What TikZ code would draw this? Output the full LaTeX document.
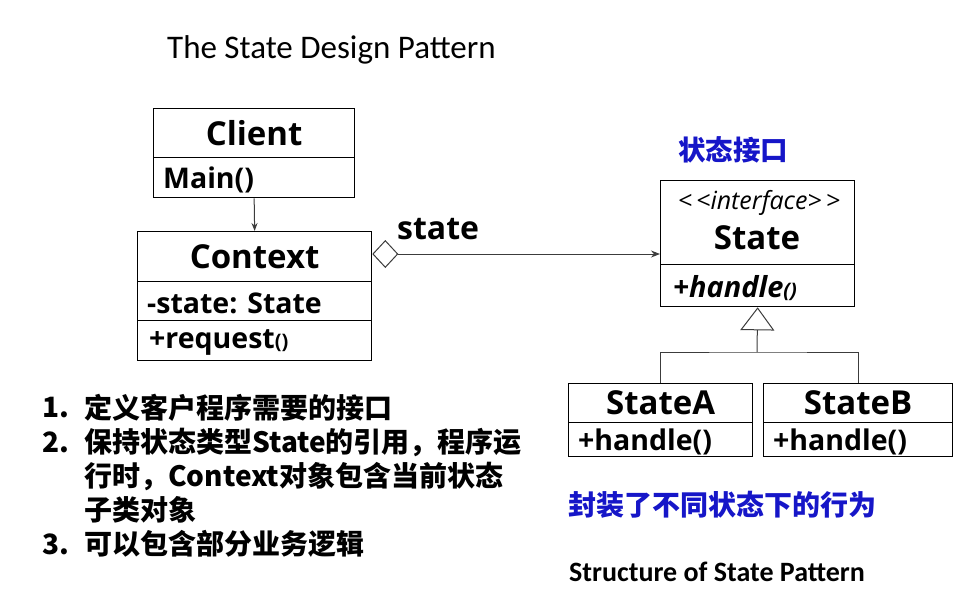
\documentclass[tikz,border=0pt]{standalone}
\usepackage{fontspec}
\setmainfont{Open Sans}
\newfontfamily\calfont{Carlito}
\newfontfamily\cjk{Noto Sans CJK SC}
\usetikzlibrary{arrows.meta}
\definecolor{hiblue}{RGB}{22,22,200}
\definecolor{linegray}{RGB}{60,60,60}
\begin{document}
\begin{tikzpicture}[x=1pt,y=-1pt,
  cell/.style={draw=black, line width=1.3pt, inner sep=0pt, anchor=north west, font=\bfseries\fontsize{33}{38}\selectfont},
  member/.style={anchor=west, inner sep=0pt, yshift=-2pt, font=\bfseries\fontsize{28.5}{32}\selectfont},
  conn/.style={draw=linegray, line width=1pt},
  listtxt/.style={anchor=west, inner sep=0pt, font=\cjk\bfseries\fontsize{28}{34}\selectfont},
  bluetxt/.style={anchor=west, inner sep=0pt, text=hiblue, font=\cjk\bfseries\fontsize{27.5}{32}\selectfont}
]
\useasboundingbox (0,0) rectangle (975,608);

% title
\node[anchor=west, inner sep=0pt, font=\calfont\fontsize{33}{38}\selectfont] (title) at (167,50) {The State Design Pattern};

% Client
\node[cell, minimum width=201pt, minimum height=49pt] (clienth) at (153,108) {Client};
\node[cell, minimum width=201pt, minimum height=40pt] (clientm) at (153,157) {};
\node[member] (clientmt) at ([xshift=10pt]clientm.west) {Main()};

% Context
\node[cell, minimum width=234pt, minimum height=50pt] (ctxh) at (137,231) {Context};
\node[cell, minimum width=234pt, minimum height=39pt] (ctxa) at (137,281) {};
\node[member] (ctxat) at ([xshift=10pt]ctxa.west) {-state: State};
\node[cell, minimum width=234pt, minimum height=40pt] (ctxo) at (137,320) {};
\node[member] (ctxot) at ([xshift=12pt]ctxo.west) {+request{\fontsize{20}{24}\selectfont()}};

% State interface
\node[cell, minimum width=194pt, minimum height=84pt] (stateh) at (660,180) {};
\node[inner sep=0pt, font=\itshape\fontsize{25}{28}\selectfont] (stereo) at (759,203) {<\,<interface>\,>};
\node[inner sep=0pt, font=\bfseries\fontsize{33}{38}\selectfont] (statet) at (757,238) {State};
\node[cell, minimum width=194pt, minimum height=42pt] (stateo) at (660,264) {};
\node[member, font=\bfseries\itshape\fontsize{29}{32}\selectfont] (stateot) at ([xshift=13pt]stateo.west) {+handle{\fontsize{20}{24}\selectfont()}};

% StateA
\node[cell, minimum width=184pt, minimum height=39pt] (sah) at (568,383) {StateA};
\node[cell, minimum width=184pt, minimum height=34pt] (sao) at (568,422) {};
\node[member] (saot) at ([xshift=10pt]sao.west) {+handle()};

% StateB
\node[cell, minimum width=189pt, minimum height=39pt] (sbh) at (763,383) {StateB};
\node[cell, minimum width=189pt, minimum height=34pt] (sbo) at (763,422) {};
\node[member] (sbot) at ([xshift=10pt]sbo.west) {+handle()};

% connectors
\draw[conn, -{Stealth[length=8pt,width=6pt]}] (clientm.south) -- (ctxh.north);

\coordinate (aggy) at (0,254);
\draw[conn, {Diamond[open,length=26pt,width=28pt,line width=1pt,fill=white]}-{Stealth[length=9pt,width=7pt]}]
  (ctxh.east |- aggy) -- (stateh.west |- aggy);
\node[anchor=west, inner sep=0pt, font=\bfseries\fontsize{32}{36}\selectfont] (statelbl) at (397,229) {state};

\coordinate (bus) at (757,352);
\draw[conn] (sah.north) |- (bus) -| (sbh.north);
\draw[conn, -{Triangle[open,length=23pt,width=34pt,line width=1pt,fill=white]}] (bus) -- (stateo.south);

% blue labels
\node[bluetxt] (iface) at (678,150) {状态接口};
\node[bluetxt, font=\cjk\bfseries\fontsize{28}{32}\selectfont] (encap) at (568,505) {封装了不同状态下的行为};
\node[anchor=west, inner sep=0pt, font=\calfont\bfseries\fontsize{28}{32}\selectfont] (caption) at (569,572) {Structure of State Pattern};

% list
\node[listtxt] (n1) at (42,408) {1.};
\node[listtxt] (l1) at (84,408) {定义客户程序需要的接口};
\node[listtxt] (n2) at (42,442) {2.};
\node[listtxt] (l2a) at (84,442) {保持状态类型State的引用，程序运};
\node[listtxt] (l2b) at (84,476) {行时，Context对象包含当前状态};
\node[listtxt] (l2c) at (84,510) {子类对象};
\node[listtxt] (n3) at (42,544) {3.};
\node[listtxt] (l3) at (84,544) {可以包含部分业务逻辑};
\end{tikzpicture}
\end{document}
